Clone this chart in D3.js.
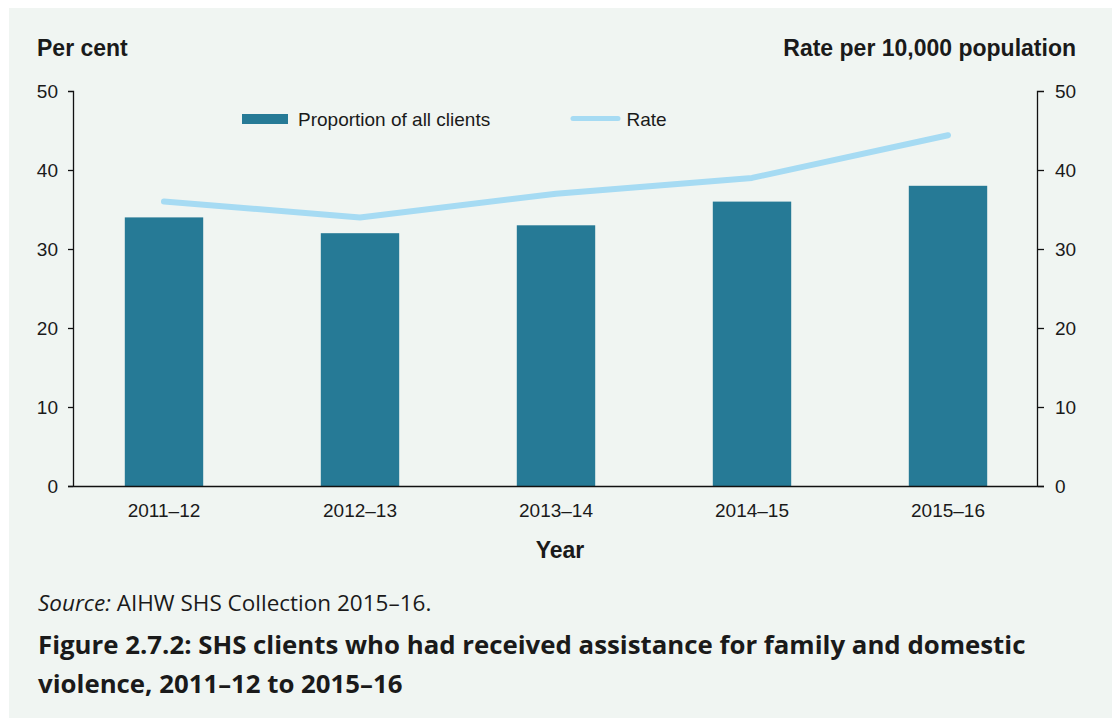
<!DOCTYPE html>
<html><head><meta charset="utf-8">
<script src="https://cdn.jsdelivr.net/npm/d3@7"></script>
<style>
html,body{margin:0;padding:0;background:#fff;}
svg{display:block;}
</style></head>
<body>
<svg id="chart" width="1112" height="718"></svg>
<script>
const categories = ["2011–12","2012–13","2013–14","2014–15","2015–16"];
const proportion = [34, 32, 33, 36, 38];
const rate = [36, 34, 37, 39, 44.4];
const yTicks = [0, 10, 20, 30, 40, 50];

const svg = d3.select("#chart");
svg.append("rect").attr("x",9).attr("y",8).attr("width",1112-9).attr("height",718-8).attr("fill","#f0f5f2");

const x = d3.scaleBand().domain(categories).range([66,1046]).paddingInner(0.6).paddingOuter(0.3);
const yL = d3.scaleLinear().domain([0,50]).range([486,91]);
const yR = d3.scaleLinear().domain([0,50]).range([486,91]);
const font = "'Liberation Sans', Arial, sans-serif";
const txt = "#1a1a1a";

// bars
svg.append("g").selectAll("rect").data(proportion).join("rect")
  .attr("x",(d,i)=>x(categories[i]))
  .attr("y",d=>yL(d))
  .attr("width",x.bandwidth())
  .attr("height",d=>yL(0)-yL(d))
  .attr("fill","#267a96");

// axes
const leftAxis = d3.axisLeft(yL).tickValues(yTicks).tickSize(5).tickPadding(10);
const gl = svg.append("g").attr("transform","translate(73,0)").call(leftAxis);
const rightAxis = d3.axisRight(yR).tickValues(yTicks).tickSize(6).tickPadding(11);
const gr = svg.append("g").attr("transform","translate(1038,0)").call(rightAxis);
[gl,gr].forEach(g=>{
  g.select(".domain").attr("d", g===gl ? "M-5,91.5H0.5V486.5" : "M6,91.5H-0.5V486.5").attr("stroke","#111").attr("stroke-width",1.3);
  g.selectAll(".tick line").attr("stroke","#111").attr("stroke-width",1.3);
  g.selectAll(".tick text").attr("font-family",font).attr("font-size",19).attr("fill",txt);
});
gl.selectAll(".tick").filter(d=>d===50).select("line").remove();
gr.selectAll(".tick").filter(d=>d===50).select("line").remove();

// x axis
const xAxis = d3.axisBottom(x).tickSize(0).tickPadding(18);
const gx = svg.append("g").attr("transform","translate(0,486)").call(xAxis);
gx.select(".domain").attr("d","M68,0.5H1044").attr("stroke","#111").attr("stroke-width",1.5);
gx.selectAll(".tick text").attr("font-family",font).attr("font-size",19).attr("fill",txt);

// line
const line = d3.line().x((d,i)=>x(categories[i])+x.bandwidth()/2).y(d=>yR(d));
svg.append("path").datum(rate).attr("d",line).attr("fill","none")
  .attr("stroke","#a6dbf3").attr("stroke-width",6).attr("stroke-linecap","round").attr("stroke-linejoin","round");

// titles
svg.append("text").attr("x",37).attr("y",56).attr("font-family",font).attr("font-weight","bold").attr("font-size",23).attr("fill",txt).text("Per cent");
svg.append("text").attr("x",1076).attr("y",56).attr("text-anchor","end").attr("font-family",font).attr("font-weight","bold").attr("font-size",23).attr("fill",txt).text("Rate per 10,000 population");
svg.append("text").attr("x",560).attr("y",558).attr("text-anchor","middle").attr("font-family",font).attr("font-weight","bold").attr("font-size",23).attr("fill",txt).text("Year");

// legend
svg.append("rect").attr("x",242).attr("y",114).attr("width",46).attr("height",10).attr("fill","#267a96");
svg.append("text").attr("x",298).attr("y",125.5).attr("font-family",font).attr("font-size",19).attr("fill",txt).text("Proportion of all clients");
svg.append("line").attr("x1",573).attr("x2",618).attr("y1",118.5).attr("y2",118.5).attr("stroke","#a6dbf3").attr("stroke-width",5).attr("stroke-linecap","round");
svg.append("text").attr("x",626.5).attr("y",125.5).attr("font-family",font).attr("font-size",19).attr("fill",txt).text("Rate");

// source + caption
const of = "'Open Sans', 'Noto Sans', sans-serif";
const src = svg.append("text").attr("x",38).attr("y",611).attr("font-family",of).attr("font-size",22.5).attr("fill",txt);
src.append("tspan").attr("font-style","italic").text("Source:");
src.append("tspan").text(" AIHW SHS Collection 2015–16.");
svg.append("text").attr("x",38).attr("y",654).attr("font-family",of).attr("font-weight","bold").attr("font-size",25.8).attr("fill",txt).text("Figure 2.7.2: SHS clients who had received assistance for family and domestic");
svg.append("text").attr("x",38).attr("y",693).attr("font-family",of).attr("font-weight","bold").attr("font-size",25.8).attr("fill",txt).text("violence, 2011–12 to 2015–16");
</script>
</body></html>
